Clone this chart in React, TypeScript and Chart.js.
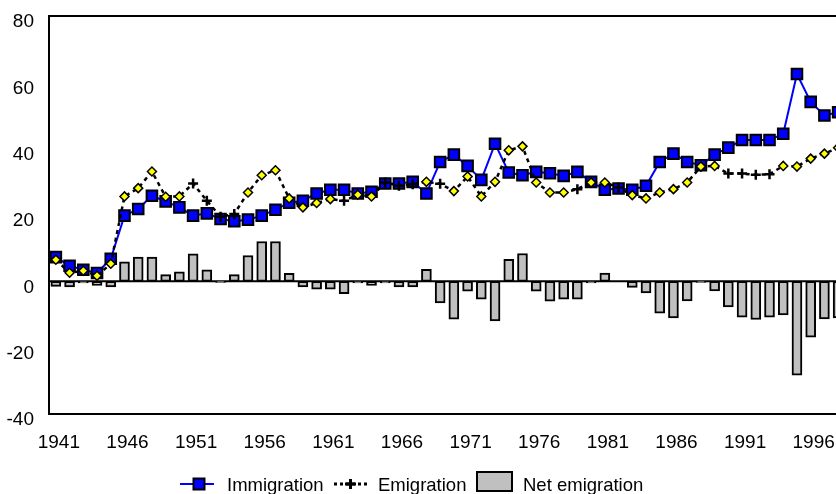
import React, { useEffect, useRef } from "react";
import { Chart, registerables } from "chart.js";

Chart.register(...registerables);

const years = [
  "1941", "1942", "1943", "1944", "1945", "1946", "1947", "1948", "1949", "1950",
  "1951", "1952", "1953", "1954", "1955", "1956", "1957", "1958", "1959", "1960",
  "1961", "1962", "1963", "1964", "1965", "1966", "1967", "1968", "1969", "1970",
  "1971", "1972", "1973", "1974", "1975", "1976", "1977", "1978", "1979", "1980",
  "1981", "1982", "1983", "1984", "1985", "1986", "1987", "1988", "1989", "1990",
  "1991", "1992", "1993", "1994", "1995", "1996", "1997", "1998",
];

const immigration = [
  7.3, 4.7, 3.5, 2.5, 6.8, 19.8, 21.8, 25.8, 24.1, 22.3,
  19.8, 20.5, 18.8, 18.1, 18.6, 19.8, 21.6, 23.7, 24.3, 26.5,
  27.6, 27.6, 26.5, 27.0, 29.5, 29.5, 30.0, 26.5, 36.0, 38.2,
  34.8, 30.6, 41.5, 32.8, 32.0, 33.0, 32.6, 31.8, 33.0, 30.0,
  27.6, 28.0, 27.6, 28.8, 36.0, 38.5, 36.0, 35.0, 38.2, 40.3,
  42.6, 42.6, 42.6, 44.5, 62.5, 54.1, 50.0, 51.0,
];

const emigration = [
  6.5, 2.6, 3.2, 1.7, 5.3, 25.6, 28.1, 33.1, 25.5, 25.6,
  29.5, 24.3, 19.5, 20.3, 26.8, 32.0, 33.5, 25.0, 22.3, 23.6,
  24.8, 24.3, 26.1, 25.6, 29.8, 28.8, 29.3, 30.0, 29.4, 27.2,
  31.6, 25.6, 30.0, 39.5, 40.7, 29.8, 26.8, 26.8, 27.8, 29.8,
  29.8, 28.3, 26.0, 25.0, 26.8, 27.8, 29.8, 34.6, 34.8, 32.5,
  32.5, 32.1, 32.3, 34.8, 34.6, 37.0, 38.5, 40.3,
];

const netEmigration = [
  -1.5, -1.7, -0.5, -1.2, -1.7, 5.9, 7.3, 7.3, 2.0, 2.9,
  8.3, 3.5, -0.3, 2.0, 7.8, 12.0, 12.0, 2.4, -1.7, -2.4,
  -2.4, -3.7, -0.5, -1.2, -0.5, -1.7, -1.7, 3.6, -6.5, -11.4,
  -3.0, -5.4, -11.9, 6.6, 8.4, -3.0, -6.0, -5.4, -5.4, -0.5,
  2.5, 0, -1.8, -3.5, -9.6, -11.0, -5.9, -0.3, -2.9, -7.7,
  -10.8, -11.5, -10.8, -10.1, -28.3, -16.8, -11.3, -11.0,
];

const yTicks = [-40, -20, 0, 20, 40, 60, 80];

// Years where the emigration line shows a plain cross instead of a diamond
const crossMarkerYears = new Set([
  "1951", "1952", "1953", "1954", "1962", "1965", "1966", "1967",
  "1969", "1979", "1982", "1990", "1991", "1992", "1993",
]);

const FONT = '"Liberation Sans", Arial, Helvetica, sans-serif';
const BLUE = "#0000FF";
const GREY = "#C0C0C0";
const YELLOW = "#FFFF00";

const framePlugin = {
  id: "frameAndLegend",
  beforeDatasetsDraw(chart: any) {
    const { ctx, chartArea: a, scales } = chart;
    ctx.save();
    ctx.strokeStyle = "#000";
    ctx.lineWidth = 2;
    ctx.strokeRect(a.left, a.top, a.right - a.left, a.bottom - a.top);
    const y0 = scales.y.getPixelForValue(0);
    ctx.beginPath();
    ctx.moveTo(a.left, y0);
    ctx.lineTo(a.right, y0);
    ctx.stroke();
    ctx.restore();
  },
  afterDraw(chart: any) {
    const { ctx } = chart;
    const cy = 484;
    const base = 490.5;
    ctx.save();
    ctx.font = `18.5px ${FONT}`;
    ctx.fillStyle = "#000";
    ctx.textBaseline = "alphabetic";

    // Immigration
    ctx.strokeStyle = BLUE;
    ctx.lineWidth = 2;
    ctx.beginPath();
    ctx.moveTo(180, cy);
    ctx.lineTo(214, cy);
    ctx.stroke();
    ctx.fillStyle = BLUE;
    ctx.fillRect(193.5, cy - 5.5, 11, 11);
    ctx.strokeStyle = "#000";
    ctx.strokeRect(193.5, cy - 5.5, 11, 11);
    ctx.fillStyle = "#000";
    ctx.fillText("Immigration", 227, base);

    // Emigration
    ctx.strokeStyle = "#000";
    ctx.lineWidth = 3;
    ctx.setLineDash([3, 3]);
    ctx.beginPath();
    ctx.moveTo(334, cy);
    ctx.lineTo(368, cy);
    ctx.stroke();
    ctx.setLineDash([]);
    ctx.beginPath();
    ctx.moveTo(345, cy);
    ctx.lineTo(356, cy);
    ctx.moveTo(350.5, cy - 5);
    ctx.lineTo(350.5, cy + 5);
    ctx.stroke();
    ctx.fillText("Emigration", 378, base);

    // Net emigration
    ctx.lineWidth = 2;
    ctx.fillStyle = GREY;
    ctx.fillRect(477, 472, 35, 19);
    ctx.strokeRect(477, 472, 35, 19);
    ctx.fillStyle = "#000";
    ctx.fillText("Net emigration", 523, base);
    ctx.restore();
  },
};

export default function App() {
  const canvasRef = useRef<HTMLCanvasElement | null>(null);

  useEffect(() => {
    document.body.style.margin = "0";
    document.body.style.overflow = "hidden";
    const canvas = canvasRef.current;
    if (!canvas) return;

    const emStyles = years.map((y) => (crossMarkerYears.has(y) ? "cross" : "rectRot"));
    const emRadius = years.map((y) => (crossMarkerYears.has(y) ? 5 : 4.5));
    const emBorder = years.map((y) => (crossMarkerYears.has(y) ? 2.5 : 1.5));

    const chart = new Chart(canvas, {
      type: "bar",
      data: {
        labels: years,
        datasets: [
          {
            type: "line",
            label: "Emigration",
            data: emigration,
            borderColor: "#000",
            borderWidth: 2.5,
            borderDash: [4, 4],
            tension: 0,
            pointStyle: emStyles as any,
            pointRadius: emRadius,
            pointBorderWidth: emBorder,
            pointBackgroundColor: YELLOW,
            pointBorderColor: "#000",
            order: 0,
          } as any,
          {
            type: "line",
            label: "Immigration",
            data: immigration,
            borderColor: BLUE,
            borderWidth: 2,
            tension: 0,
            pointStyle: "rect",
            pointRadius: 7.5,
            pointBorderWidth: 2,
            pointBackgroundColor: BLUE,
            pointBorderColor: "#000",
            order: 1,
          } as any,
          {
            type: "bar",
            label: "Net emigration",
            data: netEmigration,
            backgroundColor: GREY,
            borderColor: "#000",
            borderWidth: 2,
            borderSkipped: false,
            barThickness: 10,
            order: 2,
          } as any,
        ],
      },
      options: {
        responsive: false,
        animation: false,
        layout: { padding: { top: 16, right: 15, left: 0, bottom: 0 } },
        plugins: {
          legend: { display: false },
          tooltip: { enabled: false },
        },
        scales: {
          x: {
            grid: { display: false, drawTicks: false },
            border: { display: false },
            ticks: {
              autoSkip: false,
              maxRotation: 0,
              minRotation: 0,
              padding: 17,
              labelOffset: 3,
              color: "#000",
              font: { family: FONT, size: 19 },
              callback: (_v: any, i: number) => (i % 5 === 0 ? years[i] : ""),
            },
            afterFit: (s: any) => {
              s.height = 80;
              s.paddingLeft = 0;
              s.paddingRight = 0;
            },
          },
          y: {
            min: yTicks[0],
            max: yTicks[yTicks.length - 1],
            grid: { display: false, drawTicks: false },
            border: { display: false },
            afterBuildTicks: (s: any) => {
              s.ticks = yTicks.map((v) => ({ value: v }));
            },
            ticks: {
              padding: 15,
              labelOffset: 6,
              color: "#000",
              font: { family: FONT, size: 19 },
            },
            afterFit: (s: any) => {
              s.width = 49;
              s.paddingTop = 0;
              s.paddingBottom = 0;
            },
          },
        },
      },
      plugins: [framePlugin],
    });

    return () => chart.destroy();
  }, []);

  return (
    <div style={{ width: 836, height: 494, overflow: "hidden", background: "#fff" }}>
      <canvas ref={canvasRef} width={860} height={494} style={{ display: "block" }} />
    </div>
  );
}
